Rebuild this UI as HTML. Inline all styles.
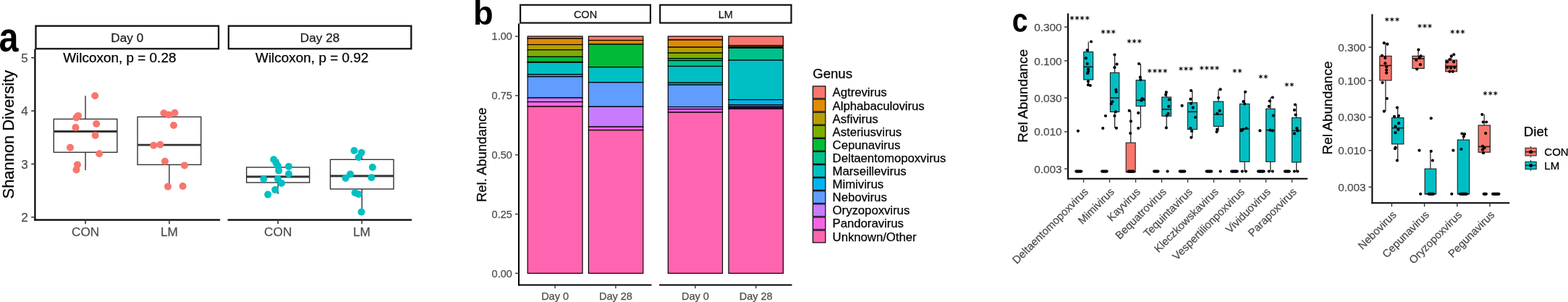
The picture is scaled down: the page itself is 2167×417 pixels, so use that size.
<!DOCTYPE html>
<html><head><meta charset="utf-8"><title>Figure</title>
<style>
html,body{margin:0;padding:0;background:#fff;}
body{width:2167px;height:417px;overflow:hidden;}
svg{display:block;}
text{font-family:'Liberation Sans', Arial, sans-serif;}
</style></head>
<body>
<svg width="2167" height="417" viewBox="0 0 2167 417">
<rect x="0" y="0" width="2167" height="417" fill="#fff"/>
<text x="0" y="0" font-size="57" font-weight="bold" fill="#000" transform="translate(-1.41,70.90) scale(0.851,1)">a</text>
<text x="0" y="0" font-size="45.3" font-weight="bold" fill="#000" transform="translate(653.91,34.10) scale(1.0,1)">b</text>
<text x="0" y="0" font-size="45.9" font-weight="bold" fill="#000" transform="translate(1398.77,43.90) scale(0.854,1)">c</text>
<rect x="49.5" y="35.8" width="252.6" height="31.5" fill="#fff" stroke="#111" stroke-width="2.3"/>
<text x="175.8" y="57.7" font-size="17.2" fill="#1A1A1A" stroke="#1A1A1A" stroke-width="0.25" text-anchor="middle">Day 0</text>
<rect x="315.9" y="35.8" width="252.4" height="31.5" fill="#fff" stroke="#111" stroke-width="2.3"/>
<text x="442.1" y="57.7" font-size="17.2" fill="#1A1A1A" stroke="#1A1A1A" stroke-width="0.25" text-anchor="middle">Day 28</text>
<text x="165.3" y="85.9" font-size="18.95" fill="#000" stroke="#000" stroke-width="0.25" text-anchor="middle">Wilcoxon, p = 0.28</text>
<text x="431.2" y="85.9" font-size="18.95" fill="#000" stroke="#000" stroke-width="0.25" text-anchor="middle">Wilcoxon, p = 0.92</text>
<line x1="48.4" y1="67.8" x2="48.4" y2="304.5" stroke="#000" stroke-width="2.2"/>
<line x1="43.2" y1="299.9" x2="48.4" y2="299.9" stroke="#333333" stroke-width="1.6"/>
<text x="38.6" y="305.9" font-size="17" fill="#4D4D4D" stroke="#4D4D4D" stroke-width="0.25" text-anchor="end">2</text>
<line x1="43.2" y1="226.5" x2="48.4" y2="226.5" stroke="#333333" stroke-width="1.6"/>
<text x="38.6" y="232.5" font-size="17" fill="#4D4D4D" stroke="#4D4D4D" stroke-width="0.25" text-anchor="end">3</text>
<line x1="43.2" y1="153.1" x2="48.4" y2="153.1" stroke="#333333" stroke-width="1.6"/>
<text x="38.6" y="159.1" font-size="17" fill="#4D4D4D" stroke="#4D4D4D" stroke-width="0.25" text-anchor="end">4</text>
<line x1="43.2" y1="79.7" x2="48.4" y2="79.7" stroke="#333333" stroke-width="1.6"/>
<text x="38.6" y="85.7" font-size="17" fill="#4D4D4D" stroke="#4D4D4D" stroke-width="0.25" text-anchor="end">5</text>
<line x1="47.3" y1="303.6" x2="304.2" y2="303.6" stroke="#000" stroke-width="2.2"/>
<line x1="118.1" y1="303.6" x2="118.1" y2="309.3" stroke="#333333" stroke-width="1.6"/>
<text x="118.1" y="326.4" font-size="17.2" fill="#4D4D4D" stroke="#4D4D4D" stroke-width="0.25" text-anchor="middle">CON</text>
<line x1="234.0" y1="303.6" x2="234.0" y2="309.3" stroke="#333333" stroke-width="1.6"/>
<text x="234.0" y="326.4" font-size="17.2" fill="#4D4D4D" stroke="#4D4D4D" stroke-width="0.25" text-anchor="middle">LM</text>
<line x1="314.6" y1="303.6" x2="569.0" y2="303.6" stroke="#000" stroke-width="2.2"/>
<line x1="384.2" y1="303.6" x2="384.2" y2="309.3" stroke="#333333" stroke-width="1.6"/>
<text x="384.2" y="326.4" font-size="17.2" fill="#4D4D4D" stroke="#4D4D4D" stroke-width="0.25" text-anchor="middle">CON</text>
<line x1="500.0" y1="303.6" x2="500.0" y2="309.3" stroke="#333333" stroke-width="1.6"/>
<text x="500.0" y="326.4" font-size="17.2" fill="#4D4D4D" stroke="#4D4D4D" stroke-width="0.25" text-anchor="middle">LM</text>
<text x="0.0" y="0.0" font-size="21.9" fill="#000" stroke="#000" stroke-width="0.25" text-anchor="middle" transform="translate(18.5,185.6) rotate(-90)">Shannon Diversity</text>
<line x1="118.1" y1="132.2" x2="118.1" y2="164.4" stroke="#333333" stroke-width="1.4"/>
<line x1="118.1" y1="210.3" x2="118.1" y2="235.0" stroke="#333333" stroke-width="1.4"/>
<rect x="74.3" y="164.4" width="87.6" height="45.9" fill="#fff" stroke="#333333" stroke-width="1.4"/>
<line x1="74.3" y1="181.5" x2="161.9" y2="181.5" stroke="#333333" stroke-width="2.8"/>
<line x1="233.9" y1="156.0" x2="233.9" y2="161.4" stroke="#333333" stroke-width="1.4"/>
<line x1="233.9" y1="227.4" x2="233.9" y2="257.6" stroke="#333333" stroke-width="1.4"/>
<rect x="190.1" y="161.4" width="87.7" height="66.0" fill="#fff" stroke="#333333" stroke-width="1.4"/>
<line x1="190.1" y1="200.2" x2="277.8" y2="200.2" stroke="#333333" stroke-width="2.8"/>
<line x1="384.2" y1="220.0" x2="384.2" y2="231.0" stroke="#333333" stroke-width="1.4"/>
<line x1="384.2" y1="252.1" x2="384.2" y2="268.0" stroke="#333333" stroke-width="1.4"/>
<rect x="340.7" y="231.0" width="87.0" height="21.1" fill="#fff" stroke="#333333" stroke-width="1.4"/>
<line x1="340.7" y1="244.0" x2="427.7" y2="244.0" stroke="#333333" stroke-width="2.8"/>
<line x1="500.2" y1="212.6" x2="500.2" y2="220.3" stroke="#333333" stroke-width="1.4"/>
<line x1="500.2" y1="261.0" x2="500.2" y2="293.0" stroke="#333333" stroke-width="1.4"/>
<rect x="456.5" y="220.3" width="87.5" height="40.7" fill="#fff" stroke="#333333" stroke-width="1.4"/>
<line x1="456.5" y1="243.0" x2="544.0" y2="243.0" stroke="#333333" stroke-width="2.8"/>
<circle cx="131.2" cy="132.2" r="5" fill="#F8766D"/>
<circle cx="108.0" cy="159.9" r="5" fill="#F8766D"/>
<circle cx="105.5" cy="162.4" r="5" fill="#F8766D"/>
<circle cx="104.5" cy="176.0" r="5" fill="#F8766D"/>
<circle cx="133.2" cy="171.0" r="5" fill="#F8766D"/>
<circle cx="131.7" cy="187.0" r="5" fill="#F8766D"/>
<circle cx="97.0" cy="203.7" r="5" fill="#F8766D"/>
<circle cx="137.2" cy="212.3" r="5" fill="#F8766D"/>
<circle cx="107.0" cy="227.4" r="5" fill="#F8766D"/>
<circle cx="105.5" cy="234.4" r="5" fill="#F8766D"/>
<circle cx="226.4" cy="156.3" r="5" fill="#F8766D"/>
<circle cx="233.0" cy="158.4" r="5" fill="#F8766D"/>
<circle cx="241.5" cy="155.8" r="5" fill="#F8766D"/>
<circle cx="240.0" cy="173.0" r="5" fill="#F8766D"/>
<circle cx="212.3" cy="200.7" r="5" fill="#F8766D"/>
<circle cx="221.4" cy="199.7" r="5" fill="#F8766D"/>
<circle cx="228.0" cy="222.8" r="5" fill="#F8766D"/>
<circle cx="255.0" cy="228.4" r="5" fill="#F8766D"/>
<circle cx="232.0" cy="257.6" r="5" fill="#F8766D"/>
<circle cx="252.6" cy="257.1" r="5" fill="#F8766D"/>
<circle cx="378.3" cy="220.3" r="5" fill="#00BFC4"/>
<circle cx="381.7" cy="225.3" r="5" fill="#00BFC4"/>
<circle cx="384.0" cy="229.0" r="5" fill="#00BFC4"/>
<circle cx="385.2" cy="235.6" r="5" fill="#00BFC4"/>
<circle cx="399.0" cy="229.9" r="5" fill="#00BFC4"/>
<circle cx="399.0" cy="240.2" r="5" fill="#00BFC4"/>
<circle cx="364.4" cy="247.1" r="5" fill="#00BFC4"/>
<circle cx="384.0" cy="247.1" r="5" fill="#00BFC4"/>
<circle cx="389.0" cy="252.9" r="5" fill="#00BFC4"/>
<circle cx="380.2" cy="262.1" r="5" fill="#00BFC4"/>
<circle cx="370.2" cy="268.6" r="5" fill="#00BFC4"/>
<circle cx="489.5" cy="208.0" r="5" fill="#00BFC4"/>
<circle cx="499.5" cy="210.7" r="5" fill="#00BFC4"/>
<circle cx="495.6" cy="217.2" r="5" fill="#00BFC4"/>
<circle cx="514.8" cy="231.0" r="5" fill="#00BFC4"/>
<circle cx="484.1" cy="240.6" r="5" fill="#00BFC4"/>
<circle cx="477.6" cy="246.0" r="5" fill="#00BFC4"/>
<circle cx="513.3" cy="245.2" r="5" fill="#00BFC4"/>
<circle cx="490.6" cy="266.3" r="5" fill="#00BFC4"/>
<circle cx="495.6" cy="268.2" r="5" fill="#00BFC4"/>
<circle cx="499.5" cy="292.8" r="5" fill="#00BFC4"/>
<rect x="719.1" y="6.8" width="179.8" height="24.8" fill="#fff" stroke="#111" stroke-width="2.2"/>
<text x="809.0" y="25.2" font-size="14.5" fill="#1A1A1A" stroke="#1A1A1A" stroke-width="0.25" text-anchor="middle">CON</text>
<rect x="912.2" y="6.8" width="181.3" height="24.8" fill="#fff" stroke="#111" stroke-width="2.2"/>
<text x="1002.8" y="25.2" font-size="14.5" fill="#1A1A1A" stroke="#1A1A1A" stroke-width="0.25" text-anchor="middle">LM</text>
<line x1="717.0" y1="32.6" x2="717.0" y2="394.4" stroke="#000" stroke-width="2.0"/>
<line x1="712.0" y1="377.4" x2="717.0" y2="377.4" stroke="#333333" stroke-width="1.4"/>
<text x="707.8" y="382.6" font-size="14.5" fill="#4D4D4D" stroke="#4D4D4D" stroke-width="0.25" text-anchor="end">0.00</text>
<line x1="712.0" y1="295.6" x2="717.0" y2="295.6" stroke="#333333" stroke-width="1.4"/>
<text x="707.8" y="300.8" font-size="14.5" fill="#4D4D4D" stroke="#4D4D4D" stroke-width="0.25" text-anchor="end">0.25</text>
<line x1="712.0" y1="213.8" x2="717.0" y2="213.8" stroke="#333333" stroke-width="1.4"/>
<text x="707.8" y="219.0" font-size="14.5" fill="#4D4D4D" stroke="#4D4D4D" stroke-width="0.25" text-anchor="end">0.50</text>
<line x1="712.0" y1="132.0" x2="717.0" y2="132.0" stroke="#333333" stroke-width="1.4"/>
<text x="707.8" y="137.2" font-size="14.5" fill="#4D4D4D" stroke="#4D4D4D" stroke-width="0.25" text-anchor="end">0.75</text>
<line x1="712.0" y1="50.2" x2="717.0" y2="50.2" stroke="#333333" stroke-width="1.4"/>
<text x="707.8" y="55.4" font-size="14.5" fill="#4D4D4D" stroke="#4D4D4D" stroke-width="0.25" text-anchor="end">1.00</text>
<line x1="716.0" y1="393.4" x2="900.5" y2="393.4" stroke="#000" stroke-width="2.0"/>
<line x1="767.1" y1="393.4" x2="767.1" y2="398.3" stroke="#333333" stroke-width="1.4"/>
<text x="767.1" y="413.6" font-size="14.5" fill="#4D4D4D" stroke="#4D4D4D" stroke-width="0.25" text-anchor="middle">Day 0</text>
<line x1="850.9" y1="393.4" x2="850.9" y2="398.3" stroke="#333333" stroke-width="1.4"/>
<text x="850.9" y="413.6" font-size="14.5" fill="#4D4D4D" stroke="#4D4D4D" stroke-width="0.25" text-anchor="middle">Day 28</text>
<line x1="911.0" y1="393.4" x2="1094.5" y2="393.4" stroke="#000" stroke-width="2.0"/>
<line x1="960.9" y1="393.4" x2="960.9" y2="398.3" stroke="#333333" stroke-width="1.4"/>
<text x="960.9" y="413.6" font-size="14.5" fill="#4D4D4D" stroke="#4D4D4D" stroke-width="0.25" text-anchor="middle">Day 0</text>
<line x1="1044.7" y1="393.4" x2="1044.7" y2="398.3" stroke="#333333" stroke-width="1.4"/>
<text x="1044.7" y="413.6" font-size="14.5" fill="#4D4D4D" stroke="#4D4D4D" stroke-width="0.25" text-anchor="middle">Day 28</text>
<text x="0.0" y="0.0" font-size="18.5" fill="#000" stroke="#000" stroke-width="0.25" text-anchor="middle" transform="translate(671.5,213.8) rotate(-90)">Rel. Abundance</text>
<rect x="729.2" y="50.1" width="75.8" height="3.1" fill="#F8766D" stroke="#000" stroke-width="1.2"/>
<rect x="729.2" y="53.2" width="75.8" height="8.4" fill="#DE8C00" stroke="#000" stroke-width="1.2"/>
<rect x="729.2" y="61.6" width="75.8" height="7.2" fill="#B79F00" stroke="#000" stroke-width="1.2"/>
<rect x="729.2" y="68.8" width="75.8" height="9.6" fill="#7CAE00" stroke="#000" stroke-width="1.2"/>
<rect x="729.2" y="78.4" width="75.8" height="7.1" fill="#00BA38" stroke="#000" stroke-width="1.2"/>
<rect x="729.2" y="85.5" width="75.8" height="0.7" fill="#00C08B" stroke="#000" stroke-width="1.2"/>
<rect x="729.2" y="86.2" width="75.8" height="16.6" fill="#00BFC4" stroke="#000" stroke-width="1.2"/>
<rect x="729.2" y="102.8" width="75.8" height="3.1" fill="#00B4F0" stroke="#000" stroke-width="1.2"/>
<rect x="729.2" y="105.9" width="75.8" height="29.2" fill="#619CFF" stroke="#000" stroke-width="1.2"/>
<rect x="729.2" y="135.1" width="75.8" height="5.5" fill="#C77CFF" stroke="#000" stroke-width="1.2"/>
<rect x="729.2" y="140.6" width="75.8" height="6.5" fill="#F564E3" stroke="#000" stroke-width="1.2"/>
<rect x="729.2" y="147.1" width="75.8" height="230.3" fill="#FF64B0" stroke="#000" stroke-width="1.2"/>
<rect x="813.4" y="50.1" width="75.4" height="5.5" fill="#F8766D" stroke="#000" stroke-width="1.2"/>
<rect x="813.4" y="55.6" width="75.4" height="5.5" fill="#DE8C00" stroke="#000" stroke-width="1.2"/>
<rect x="813.4" y="61.1" width="75.4" height="31.6" fill="#00BA38" stroke="#000" stroke-width="1.2"/>
<rect x="813.4" y="92.7" width="75.4" height="21.1" fill="#00BFC4" stroke="#000" stroke-width="1.2"/>
<rect x="813.4" y="113.8" width="75.4" height="33.5" fill="#619CFF" stroke="#000" stroke-width="1.2"/>
<rect x="813.4" y="147.3" width="75.4" height="27.8" fill="#C77CFF" stroke="#000" stroke-width="1.2"/>
<rect x="813.4" y="175.1" width="75.4" height="4.6" fill="#F564E3" stroke="#000" stroke-width="1.2"/>
<rect x="813.4" y="179.7" width="75.4" height="197.7" fill="#FF64B0" stroke="#000" stroke-width="1.2"/>
<rect x="923.3" y="50.1" width="75.2" height="5.0" fill="#F8766D" stroke="#000" stroke-width="1.2"/>
<rect x="923.3" y="55.1" width="75.2" height="10.1" fill="#DE8C00" stroke="#000" stroke-width="1.2"/>
<rect x="923.3" y="65.2" width="75.2" height="7.9" fill="#B79F00" stroke="#000" stroke-width="1.2"/>
<rect x="923.3" y="73.1" width="75.2" height="7.6" fill="#7CAE00" stroke="#000" stroke-width="1.2"/>
<rect x="923.3" y="80.7" width="75.2" height="2.9" fill="#00BA38" stroke="#000" stroke-width="1.2"/>
<rect x="923.3" y="83.6" width="75.2" height="7.9" fill="#00C08B" stroke="#000" stroke-width="1.2"/>
<rect x="923.3" y="91.5" width="75.2" height="22.8" fill="#00BFC4" stroke="#000" stroke-width="1.2"/>
<rect x="923.3" y="114.3" width="75.2" height="2.9" fill="#00B4F0" stroke="#000" stroke-width="1.2"/>
<rect x="923.3" y="117.2" width="75.2" height="30.4" fill="#619CFF" stroke="#000" stroke-width="1.2"/>
<rect x="923.3" y="147.6" width="75.2" height="3.1" fill="#C77CFF" stroke="#000" stroke-width="1.2"/>
<rect x="923.3" y="150.7" width="75.2" height="4.4" fill="#F564E3" stroke="#000" stroke-width="1.2"/>
<rect x="923.3" y="155.1" width="75.2" height="222.3" fill="#FF64B0" stroke="#000" stroke-width="1.2"/>
<rect x="1007.0" y="50.1" width="75.4" height="12.9" fill="#F8766D" stroke="#000" stroke-width="1.2"/>
<rect x="1007.0" y="63.0" width="75.4" height="2.0" fill="#DE8C00" stroke="#000" stroke-width="1.2"/>
<rect x="1007.0" y="65.0" width="75.4" height="1.3" fill="#00BA38" stroke="#000" stroke-width="1.2"/>
<rect x="1007.0" y="66.3" width="75.4" height="16.8" fill="#00C08B" stroke="#000" stroke-width="1.2"/>
<rect x="1007.0" y="83.1" width="75.4" height="54.5" fill="#00BFC4" stroke="#000" stroke-width="1.2"/>
<rect x="1007.0" y="137.6" width="75.4" height="7.2" fill="#00B4F0" stroke="#000" stroke-width="1.2"/>
<rect x="1007.0" y="144.8" width="75.4" height="2.4" fill="#619CFF" stroke="#000" stroke-width="1.2"/>
<rect x="1007.0" y="147.2" width="75.4" height="1.6" fill="#C77CFF" stroke="#000" stroke-width="1.2"/>
<rect x="1007.0" y="148.8" width="75.4" height="1.5" fill="#F564E3" stroke="#000" stroke-width="1.2"/>
<rect x="1007.0" y="150.3" width="75.4" height="227.1" fill="#FF64B0" stroke="#000" stroke-width="1.2"/>
<text x="1150.6" y="107.5" font-size="18.6" fill="#000" stroke="#000" stroke-width="0.25" text-anchor="middle">Genus</text>
<rect x="1123.4" y="119.0" width="17.4" height="16.9" fill="#F8766D" stroke="#000" stroke-width="1.2"/>
<text x="1150.6" y="133.4" font-size="16.7" fill="#000" stroke="#000" stroke-width="0.25">Agtrevirus</text>
<rect x="1123.4" y="137.1" width="17.4" height="16.9" fill="#DE8C00" stroke="#000" stroke-width="1.2"/>
<text x="1150.6" y="151.5" font-size="16.7" fill="#000" stroke="#000" stroke-width="0.25">Alphabaculovirus</text>
<rect x="1123.4" y="155.2" width="17.4" height="16.9" fill="#B79F00" stroke="#000" stroke-width="1.2"/>
<text x="1150.6" y="169.6" font-size="16.7" fill="#000" stroke="#000" stroke-width="0.25">Asfivirus</text>
<rect x="1123.4" y="173.3" width="17.4" height="16.9" fill="#7CAE00" stroke="#000" stroke-width="1.2"/>
<text x="1150.6" y="187.7" font-size="16.7" fill="#000" stroke="#000" stroke-width="0.25">Asteriusvirus</text>
<rect x="1123.4" y="191.4" width="17.4" height="16.9" fill="#00BA38" stroke="#000" stroke-width="1.2"/>
<text x="1150.6" y="205.8" font-size="16.7" fill="#000" stroke="#000" stroke-width="0.25">Cepunavirus</text>
<rect x="1123.4" y="209.5" width="17.4" height="16.9" fill="#00C08B" stroke="#000" stroke-width="1.2"/>
<text x="1150.6" y="223.9" font-size="16.7" fill="#000" stroke="#000" stroke-width="0.25">Deltaentomopoxvirus</text>
<rect x="1123.4" y="227.6" width="17.4" height="16.9" fill="#00BFC4" stroke="#000" stroke-width="1.2"/>
<text x="1150.6" y="242.0" font-size="16.7" fill="#000" stroke="#000" stroke-width="0.25">Marseillevirus</text>
<rect x="1123.4" y="245.7" width="17.4" height="16.9" fill="#00B4F0" stroke="#000" stroke-width="1.2"/>
<text x="1150.6" y="260.1" font-size="16.7" fill="#000" stroke="#000" stroke-width="0.25">Mimivirus</text>
<rect x="1123.4" y="263.8" width="17.4" height="16.9" fill="#619CFF" stroke="#000" stroke-width="1.2"/>
<text x="1150.6" y="278.2" font-size="16.7" fill="#000" stroke="#000" stroke-width="0.25">Nebovirus</text>
<rect x="1123.4" y="281.9" width="17.4" height="16.9" fill="#C77CFF" stroke="#000" stroke-width="1.2"/>
<text x="1150.6" y="296.3" font-size="16.7" fill="#000" stroke="#000" stroke-width="0.25">Oryzopoxvirus</text>
<rect x="1123.4" y="300.0" width="17.4" height="16.9" fill="#F564E3" stroke="#000" stroke-width="1.2"/>
<text x="1150.6" y="314.4" font-size="16.7" fill="#000" stroke="#000" stroke-width="0.25">Pandoravirus</text>
<rect x="1123.4" y="318.1" width="17.4" height="16.9" fill="#FF64B0" stroke="#000" stroke-width="1.2"/>
<text x="1150.6" y="332.5" font-size="16.7" fill="#000" stroke="#000" stroke-width="0.25">Unknown/Other</text>
<line x1="1476.0" y1="18.5" x2="1476.0" y2="248.0" stroke="#000" stroke-width="2.0"/>
<line x1="1471.0" y1="37.3" x2="1476.0" y2="37.3" stroke="#333333" stroke-width="1.4"/>
<text x="1467.5" y="42.8" font-size="15.3" fill="#4D4D4D" stroke="#4D4D4D" stroke-width="0.25" text-anchor="end">0.300</text>
<line x1="1471.0" y1="84.0" x2="1476.0" y2="84.0" stroke="#333333" stroke-width="1.4"/>
<text x="1467.5" y="89.5" font-size="15.3" fill="#4D4D4D" stroke="#4D4D4D" stroke-width="0.25" text-anchor="end">0.100</text>
<line x1="1471.0" y1="135.2" x2="1476.0" y2="135.2" stroke="#333333" stroke-width="1.4"/>
<text x="1467.5" y="140.7" font-size="15.3" fill="#4D4D4D" stroke="#4D4D4D" stroke-width="0.25" text-anchor="end">0.030</text>
<line x1="1471.0" y1="181.9" x2="1476.0" y2="181.9" stroke="#333333" stroke-width="1.4"/>
<text x="1467.5" y="187.4" font-size="15.3" fill="#4D4D4D" stroke="#4D4D4D" stroke-width="0.25" text-anchor="end">0.010</text>
<line x1="1471.0" y1="233.1" x2="1476.0" y2="233.1" stroke="#333333" stroke-width="1.4"/>
<text x="1467.5" y="238.6" font-size="15.3" fill="#4D4D4D" stroke="#4D4D4D" stroke-width="0.25" text-anchor="end">0.003</text>
<line x1="1475.0" y1="246.7" x2="1807.2" y2="246.7" stroke="#000" stroke-width="2.0"/>
<line x1="1497.5" y1="246.7" x2="1497.5" y2="251.9" stroke="#333333" stroke-width="1.4"/>
<text x="0.0" y="0.0" font-size="15.0" fill="#4D4D4D" stroke="#4D4D4D" stroke-width="0.25" text-anchor="end" transform="translate(1504.9,265.7) rotate(-45)">Deltaentomopoxvirus</text>
<line x1="1533.5" y1="246.7" x2="1533.5" y2="251.9" stroke="#333333" stroke-width="1.4"/>
<text x="0.0" y="0.0" font-size="15.0" fill="#4D4D4D" stroke="#4D4D4D" stroke-width="0.25" text-anchor="end" transform="translate(1540.9,265.7) rotate(-45)">Mimivirus</text>
<line x1="1569.5" y1="246.7" x2="1569.5" y2="251.9" stroke="#333333" stroke-width="1.4"/>
<text x="0.0" y="0.0" font-size="15.0" fill="#4D4D4D" stroke="#4D4D4D" stroke-width="0.25" text-anchor="end" transform="translate(1576.9,265.7) rotate(-45)">Kayvirus</text>
<line x1="1605.5" y1="246.7" x2="1605.5" y2="251.9" stroke="#333333" stroke-width="1.4"/>
<text x="0.0" y="0.0" font-size="15.0" fill="#4D4D4D" stroke="#4D4D4D" stroke-width="0.25" text-anchor="end" transform="translate(1612.9,265.7) rotate(-45)">Bequatrovirus</text>
<line x1="1641.5" y1="246.7" x2="1641.5" y2="251.9" stroke="#333333" stroke-width="1.4"/>
<text x="0.0" y="0.0" font-size="15.0" fill="#4D4D4D" stroke="#4D4D4D" stroke-width="0.25" text-anchor="end" transform="translate(1648.9,265.7) rotate(-45)">Tequintavirus</text>
<line x1="1677.5" y1="246.7" x2="1677.5" y2="251.9" stroke="#333333" stroke-width="1.4"/>
<text x="0.0" y="0.0" font-size="15.0" fill="#4D4D4D" stroke="#4D4D4D" stroke-width="0.25" text-anchor="end" transform="translate(1684.9,265.7) rotate(-45)">Kleczkowskavirus</text>
<line x1="1713.5" y1="246.7" x2="1713.5" y2="251.9" stroke="#333333" stroke-width="1.4"/>
<text x="0.0" y="0.0" font-size="15.0" fill="#4D4D4D" stroke="#4D4D4D" stroke-width="0.25" text-anchor="end" transform="translate(1720.9,265.7) rotate(-45)">Vespertilionpoxvirus</text>
<line x1="1749.5" y1="246.7" x2="1749.5" y2="251.9" stroke="#333333" stroke-width="1.4"/>
<text x="0.0" y="0.0" font-size="15.0" fill="#4D4D4D" stroke="#4D4D4D" stroke-width="0.25" text-anchor="end" transform="translate(1756.9,265.7) rotate(-45)">Vividuovirus</text>
<line x1="1785.5" y1="246.7" x2="1785.5" y2="251.9" stroke="#333333" stroke-width="1.4"/>
<text x="0.0" y="0.0" font-size="15.0" fill="#4D4D4D" stroke="#4D4D4D" stroke-width="0.25" text-anchor="end" transform="translate(1792.9,265.7) rotate(-45)">Parapoxvirus</text>
<text x="0.0" y="0.0" font-size="19.0" fill="#000" stroke="#000" stroke-width="0.25" text-anchor="middle" transform="translate(1420.0,132.3) rotate(-90)">Rel Abundance</text>
<line x1="1896.4" y1="19.4" x2="1896.4" y2="281.2" stroke="#000" stroke-width="2.0"/>
<line x1="1891.4" y1="65.2" x2="1896.4" y2="65.2" stroke="#333333" stroke-width="1.4"/>
<text x="1887.6" y="70.7" font-size="15.3" fill="#4D4D4D" stroke="#4D4D4D" stroke-width="0.25" text-anchor="end">0.300</text>
<line x1="1891.4" y1="111.3" x2="1896.4" y2="111.3" stroke="#333333" stroke-width="1.4"/>
<text x="1887.6" y="116.7" font-size="15.3" fill="#4D4D4D" stroke="#4D4D4D" stroke-width="0.25" text-anchor="end">0.100</text>
<line x1="1891.4" y1="161.8" x2="1896.4" y2="161.8" stroke="#333333" stroke-width="1.4"/>
<text x="1887.6" y="167.2" font-size="15.3" fill="#4D4D4D" stroke="#4D4D4D" stroke-width="0.25" text-anchor="end">0.030</text>
<line x1="1891.4" y1="207.8" x2="1896.4" y2="207.8" stroke="#333333" stroke-width="1.4"/>
<text x="1887.6" y="213.3" font-size="15.3" fill="#4D4D4D" stroke="#4D4D4D" stroke-width="0.25" text-anchor="end">0.010</text>
<line x1="1891.4" y1="258.3" x2="1896.4" y2="258.3" stroke="#333333" stroke-width="1.4"/>
<text x="1887.6" y="263.8" font-size="15.3" fill="#4D4D4D" stroke="#4D4D4D" stroke-width="0.25" text-anchor="end">0.003</text>
<line x1="1895.4" y1="280.2" x2="2086.3" y2="280.2" stroke="#000" stroke-width="2.0"/>
<line x1="1923.4" y1="280.2" x2="1923.4" y2="285.4" stroke="#333333" stroke-width="1.4"/>
<text x="0.0" y="0.0" font-size="15.0" fill="#4D4D4D" stroke="#4D4D4D" stroke-width="0.25" text-anchor="end" transform="translate(1930.8,297.5) rotate(-45)">Nebovirus</text>
<line x1="1968.6" y1="280.2" x2="1968.6" y2="285.4" stroke="#333333" stroke-width="1.4"/>
<text x="0.0" y="0.0" font-size="15.0" fill="#4D4D4D" stroke="#4D4D4D" stroke-width="0.25" text-anchor="end" transform="translate(1976.0,297.5) rotate(-45)">Cepunavirus</text>
<line x1="2013.8" y1="280.2" x2="2013.8" y2="285.4" stroke="#333333" stroke-width="1.4"/>
<text x="0.0" y="0.0" font-size="15.0" fill="#4D4D4D" stroke="#4D4D4D" stroke-width="0.25" text-anchor="end" transform="translate(2021.2,297.5) rotate(-45)">Oryzopoxvirus</text>
<line x1="2059.0" y1="280.2" x2="2059.0" y2="285.4" stroke="#333333" stroke-width="1.4"/>
<text x="0.0" y="0.0" font-size="15.0" fill="#4D4D4D" stroke="#4D4D4D" stroke-width="0.25" text-anchor="end" transform="translate(2066.4,297.5) rotate(-45)">Pegunavirus</text>
<text x="0.0" y="0.0" font-size="19.0" fill="#000" stroke="#000" stroke-width="0.25" text-anchor="middle" transform="translate(1840.8,149.0) rotate(-90)">Rel Abundance</text>
<line x1="1487.4" y1="236.6" x2="1494.2" y2="236.6" stroke="#000" stroke-width="4.2" stroke-linecap="round"/>
<circle cx="1489.9" cy="180.8" r="2.1" fill="#000"/>
<line x1="1504.2" y1="57.5" x2="1504.2" y2="71.7" stroke="#1a1a1a" stroke-width="1.2"/>
<line x1="1504.2" y1="110.0" x2="1504.2" y2="116.7" stroke="#1a1a1a" stroke-width="1.2"/>
<rect x="1497.7" y="71.7" width="12.9" height="38.3" fill="#00BFC4" stroke="#1a1a1a" stroke-width="1.1"/>
<line x1="1497.7" y1="92.3" x2="1510.6" y2="92.3" stroke="#1a1a1a" stroke-width="1.6"/>
<circle cx="1508.0" cy="57.5" r="2.1" fill="#000"/>
<circle cx="1502.7" cy="69.3" r="2.1" fill="#000"/>
<circle cx="1500.8" cy="80.3" r="2.1" fill="#000"/>
<circle cx="1502.7" cy="88.0" r="2.1" fill="#000"/>
<circle cx="1503.9" cy="95.6" r="2.1" fill="#000"/>
<circle cx="1503.9" cy="98.8" r="2.1" fill="#000"/>
<circle cx="1503.0" cy="101.2" r="2.1" fill="#000"/>
<circle cx="1503.9" cy="112.4" r="2.1" fill="#000"/>
<circle cx="1503.9" cy="117.2" r="2.1" fill="#000"/>
<circle cx="1506.8" cy="118.0" r="2.1" fill="#000"/>
<line x1="1523.1" y1="236.6" x2="1529.6" y2="236.6" stroke="#000" stroke-width="4.2" stroke-linecap="round"/>
<circle cx="1524.2" cy="177.1" r="2.1" fill="#000"/>
<circle cx="1527.9" cy="160.0" r="2.1" fill="#000"/>
<line x1="1540.6" y1="75.5" x2="1540.6" y2="100.4" stroke="#1a1a1a" stroke-width="1.2"/>
<line x1="1540.6" y1="154.5" x2="1540.6" y2="176.8" stroke="#1a1a1a" stroke-width="1.2"/>
<rect x="1534.4" y="100.4" width="12.4" height="54.1" fill="#00BFC4" stroke="#1a1a1a" stroke-width="1.1"/>
<line x1="1534.4" y1="135.2" x2="1546.8" y2="135.2" stroke="#1a1a1a" stroke-width="1.6"/>
<circle cx="1540.4" cy="75.5" r="2.1" fill="#000"/>
<circle cx="1543.5" cy="88.7" r="2.1" fill="#000"/>
<circle cx="1540.4" cy="93.2" r="2.1" fill="#000"/>
<circle cx="1542.3" cy="124.0" r="2.1" fill="#000"/>
<circle cx="1542.7" cy="126.8" r="2.1" fill="#000"/>
<circle cx="1535.7" cy="143.4" r="2.1" fill="#000"/>
<circle cx="1537.3" cy="140.3" r="2.1" fill="#000"/>
<circle cx="1540.4" cy="160.0" r="2.1" fill="#000"/>
<circle cx="1542.0" cy="154.3" r="2.1" fill="#000"/>
<circle cx="1542.9" cy="176.8" r="2.1" fill="#000"/>
<line x1="1562.7" y1="152.8" x2="1562.7" y2="197.1" stroke="#1a1a1a" stroke-width="1.2"/>
<rect x="1556.2" y="197.1" width="12.9" height="40.5" fill="#F8766D" stroke="#1a1a1a" stroke-width="1.1"/>
<line x1="1556.2" y1="237.6" x2="1569.1" y2="237.6" stroke="#1a1a1a" stroke-width="1.6"/>
<circle cx="1560.7" cy="152.8" r="2.1" fill="#000"/>
<circle cx="1562.9" cy="167.4" r="2.1" fill="#000"/>
<circle cx="1562.2" cy="184.0" r="2.1" fill="#000"/>
<line x1="1559.6" y1="236.6" x2="1566.4" y2="236.6" stroke="#000" stroke-width="4.2" stroke-linecap="round"/>
<line x1="1576.4" y1="88.0" x2="1576.4" y2="110.7" stroke="#1a1a1a" stroke-width="1.2"/>
<line x1="1576.4" y1="146.6" x2="1576.4" y2="177.1" stroke="#1a1a1a" stroke-width="1.2"/>
<rect x="1570.1" y="110.7" width="12.7" height="35.9" fill="#00BFC4" stroke="#1a1a1a" stroke-width="1.1"/>
<line x1="1570.1" y1="138.4" x2="1582.8" y2="138.4" stroke="#1a1a1a" stroke-width="1.6"/>
<circle cx="1574.0" cy="88.0" r="2.1" fill="#000"/>
<circle cx="1575.8" cy="106.7" r="2.1" fill="#000"/>
<circle cx="1576.3" cy="110.0" r="2.1" fill="#000"/>
<circle cx="1580.0" cy="137.0" r="2.1" fill="#000"/>
<circle cx="1573.2" cy="155.9" r="2.1" fill="#000"/>
<circle cx="1577.2" cy="138.7" r="2.1" fill="#000"/>
<circle cx="1578.5" cy="136.2" r="2.1" fill="#000"/>
<circle cx="1573.2" cy="177.1" r="2.1" fill="#000"/>
<line x1="1595.1" y1="236.6" x2="1600.4" y2="236.6" stroke="#000" stroke-width="4.2" stroke-linecap="round"/>
<line x1="1612.2" y1="126.8" x2="1612.2" y2="134.1" stroke="#1a1a1a" stroke-width="1.2"/>
<line x1="1612.2" y1="160.3" x2="1612.2" y2="176.4" stroke="#1a1a1a" stroke-width="1.2"/>
<rect x="1605.8" y="134.1" width="12.7" height="26.2" fill="#00BFC4" stroke="#1a1a1a" stroke-width="1.1"/>
<line x1="1605.8" y1="150.9" x2="1618.5" y2="150.9" stroke="#1a1a1a" stroke-width="1.6"/>
<circle cx="1611.8" cy="127.4" r="2.1" fill="#000"/>
<circle cx="1611.1" cy="130.8" r="2.1" fill="#000"/>
<circle cx="1615.8" cy="137.5" r="2.1" fill="#000"/>
<circle cx="1615.2" cy="146.9" r="2.1" fill="#000"/>
<circle cx="1614.5" cy="156.9" r="2.1" fill="#000"/>
<circle cx="1612.5" cy="159.6" r="2.1" fill="#000"/>
<circle cx="1611.8" cy="176.4" r="2.1" fill="#000"/>
<circle cx="1613.5" cy="236.6" r="2.1" fill="#000"/>
<line x1="1630.7" y1="236.6" x2="1637.2" y2="236.6" stroke="#000" stroke-width="4.2" stroke-linecap="round"/>
<circle cx="1633.6" cy="145.9" r="2.1" fill="#000"/>
<line x1="1647.8" y1="125.1" x2="1647.8" y2="141.8" stroke="#1a1a1a" stroke-width="1.2"/>
<line x1="1647.8" y1="178.7" x2="1647.8" y2="189.8" stroke="#1a1a1a" stroke-width="1.2"/>
<rect x="1641.3" y="141.8" width="13.1" height="36.9" fill="#00BFC4" stroke="#1a1a1a" stroke-width="1.1"/>
<line x1="1641.3" y1="154.3" x2="1654.4" y2="154.3" stroke="#1a1a1a" stroke-width="1.6"/>
<circle cx="1646.0" cy="125.1" r="2.1" fill="#000"/>
<circle cx="1645.3" cy="136.8" r="2.1" fill="#000"/>
<circle cx="1646.0" cy="142.9" r="2.1" fill="#000"/>
<circle cx="1648.7" cy="148.6" r="2.1" fill="#000"/>
<circle cx="1652.0" cy="162.0" r="2.1" fill="#000"/>
<circle cx="1645.3" cy="177.0" r="2.1" fill="#000"/>
<circle cx="1647.0" cy="181.0" r="2.1" fill="#000"/>
<circle cx="1646.3" cy="189.8" r="2.1" fill="#000"/>
<line x1="1667.6" y1="236.6" x2="1674.1" y2="236.6" stroke="#000" stroke-width="4.2" stroke-linecap="round"/>
<line x1="1683.9" y1="123.4" x2="1683.9" y2="140.2" stroke="#1a1a1a" stroke-width="1.2"/>
<line x1="1683.9" y1="174.4" x2="1683.9" y2="181.5" stroke="#1a1a1a" stroke-width="1.2"/>
<rect x="1677.2" y="140.2" width="13.4" height="34.2" fill="#00BFC4" stroke="#1a1a1a" stroke-width="1.1"/>
<line x1="1677.2" y1="157.9" x2="1690.6" y2="157.9" stroke="#1a1a1a" stroke-width="1.6"/>
<circle cx="1686.6" cy="123.4" r="2.1" fill="#000"/>
<circle cx="1683.9" cy="135.1" r="2.1" fill="#000"/>
<circle cx="1682.2" cy="156.9" r="2.1" fill="#000"/>
<circle cx="1685.6" cy="152.9" r="2.1" fill="#000"/>
<circle cx="1682.2" cy="178.7" r="2.1" fill="#000"/>
<circle cx="1681.5" cy="182.1" r="2.1" fill="#000"/>
<circle cx="1686.6" cy="236.6" r="2.1" fill="#000"/>
<line x1="1702.1" y1="236.6" x2="1709.7" y2="236.6" stroke="#000" stroke-width="4.2" stroke-linecap="round"/>
<line x1="1720.1" y1="126.8" x2="1720.1" y2="143.5" stroke="#1a1a1a" stroke-width="1.2"/>
<line x1="1720.1" y1="223.3" x2="1720.1" y2="236.6" stroke="#1a1a1a" stroke-width="1.2"/>
<rect x="1713.4" y="143.5" width="13.4" height="79.8" fill="#00BFC4" stroke="#1a1a1a" stroke-width="1.1"/>
<line x1="1713.4" y1="178.0" x2="1726.8" y2="178.0" stroke="#1a1a1a" stroke-width="1.6"/>
<circle cx="1721.1" cy="126.8" r="2.1" fill="#000"/>
<circle cx="1718.5" cy="140.2" r="2.1" fill="#000"/>
<circle cx="1720.1" cy="143.5" r="2.1" fill="#000"/>
<circle cx="1715.8" cy="180.4" r="2.1" fill="#000"/>
<circle cx="1717.8" cy="178.7" r="2.1" fill="#000"/>
<circle cx="1722.5" cy="177.0" r="2.1" fill="#000"/>
<circle cx="1716.8" cy="236.6" r="2.1" fill="#000"/>
<circle cx="1721.8" cy="236.6" r="2.1" fill="#000"/>
<line x1="1739.0" y1="236.6" x2="1746.5" y2="236.6" stroke="#000" stroke-width="4.2" stroke-linecap="round"/>
<circle cx="1741.3" cy="180.4" r="2.1" fill="#000"/>
<line x1="1755.8" y1="134.5" x2="1755.8" y2="150.2" stroke="#1a1a1a" stroke-width="1.2"/>
<line x1="1755.8" y1="223.3" x2="1755.8" y2="236.6" stroke="#1a1a1a" stroke-width="1.2"/>
<rect x="1749.6" y="150.2" width="12.4" height="73.1" fill="#00BFC4" stroke="#1a1a1a" stroke-width="1.1"/>
<line x1="1749.6" y1="179.7" x2="1762.0" y2="179.7" stroke="#1a1a1a" stroke-width="1.6"/>
<circle cx="1758.7" cy="134.5" r="2.1" fill="#000"/>
<circle cx="1754.7" cy="139.5" r="2.1" fill="#000"/>
<circle cx="1753.7" cy="146.9" r="2.1" fill="#000"/>
<circle cx="1759.7" cy="159.6" r="2.1" fill="#000"/>
<circle cx="1755.3" cy="179.7" r="2.1" fill="#000"/>
<circle cx="1758.7" cy="180.4" r="2.1" fill="#000"/>
<circle cx="1753.7" cy="236.6" r="2.1" fill="#000"/>
<circle cx="1758.7" cy="236.6" r="2.1" fill="#000"/>
<line x1="1775.9" y1="236.6" x2="1781.7" y2="236.6" stroke="#000" stroke-width="4.2" stroke-linecap="round"/>
<line x1="1791.7" y1="144.5" x2="1791.7" y2="162.6" stroke="#1a1a1a" stroke-width="1.2"/>
<line x1="1791.7" y1="224.0" x2="1791.7" y2="236.6" stroke="#1a1a1a" stroke-width="1.2"/>
<rect x="1785.5" y="162.6" width="12.4" height="61.4" fill="#00BFC4" stroke="#1a1a1a" stroke-width="1.1"/>
<line x1="1785.5" y1="180.4" x2="1797.9" y2="180.4" stroke="#1a1a1a" stroke-width="1.6"/>
<circle cx="1789.9" cy="144.5" r="2.1" fill="#000"/>
<circle cx="1788.9" cy="151.9" r="2.1" fill="#000"/>
<circle cx="1790.5" cy="158.6" r="2.1" fill="#000"/>
<circle cx="1792.2" cy="177.0" r="2.1" fill="#000"/>
<circle cx="1793.2" cy="180.4" r="2.1" fill="#000"/>
<circle cx="1788.9" cy="184.4" r="2.1" fill="#000"/>
<circle cx="1788.9" cy="236.6" r="2.1" fill="#000"/>
<circle cx="1793.2" cy="236.6" r="2.1" fill="#000"/>
<text x="1478.4" y="30.9" font-size="11.5" font-weight="bold" letter-spacing="1.1" style="font-family:'DejaVu Sans',sans-serif" fill="#000">****</text>
<text x="1521.6" y="49.6" font-size="11.5" font-weight="bold" letter-spacing="1.1" style="font-family:'DejaVu Sans',sans-serif" fill="#000">***</text>
<text x="1557.5" y="62.5" font-size="11.5" font-weight="bold" letter-spacing="1.1" style="font-family:'DejaVu Sans',sans-serif" fill="#000">***</text>
<text x="1585.8" y="103.8" font-size="11.5" font-weight="bold" letter-spacing="1.1" style="font-family:'DejaVu Sans',sans-serif" fill="#000">****</text>
<text x="1628.9" y="101.4" font-size="11.5" font-weight="bold" letter-spacing="1.1" style="font-family:'DejaVu Sans',sans-serif" fill="#000">***</text>
<text x="1657.7" y="99.9" font-size="11.5" font-weight="bold" letter-spacing="1.1" style="font-family:'DejaVu Sans',sans-serif" fill="#000">****</text>
<text x="1703.3" y="103.8" font-size="11.5" font-weight="bold" letter-spacing="1.1" style="font-family:'DejaVu Sans',sans-serif" fill="#000">**</text>
<text x="1739.2" y="111.5" font-size="11.5" font-weight="bold" letter-spacing="1.1" style="font-family:'DejaVu Sans',sans-serif" fill="#000">**</text>
<text x="1775.2" y="122.9" font-size="11.5" font-weight="bold" letter-spacing="1.1" style="font-family:'DejaVu Sans',sans-serif" fill="#000">**</text>
<text x="1913.7" y="33.1" font-size="11.5" font-weight="bold" letter-spacing="1.1" style="font-family:'DejaVu Sans',sans-serif" fill="#000">***</text>
<text x="1958.9" y="42.4" font-size="11.5" font-weight="bold" letter-spacing="1.1" style="font-family:'DejaVu Sans',sans-serif" fill="#000">***</text>
<text x="2004.3" y="50.0" font-size="11.5" font-weight="bold" letter-spacing="1.1" style="font-family:'DejaVu Sans',sans-serif" fill="#000">***</text>
<text x="2049.6" y="134.9" font-size="11.5" font-weight="bold" letter-spacing="1.1" style="font-family:'DejaVu Sans',sans-serif" fill="#000">***</text>
<line x1="1914.9" y1="59.3" x2="1914.9" y2="77.4" stroke="#1a1a1a" stroke-width="1.2"/>
<line x1="1914.9" y1="111.0" x2="1914.9" y2="153.7" stroke="#1a1a1a" stroke-width="1.2"/>
<rect x="1906.8" y="77.4" width="16.2" height="33.6" fill="#F8766D" stroke="#1a1a1a" stroke-width="1.1"/>
<line x1="1906.8" y1="90.5" x2="1923.0" y2="90.5" stroke="#1a1a1a" stroke-width="1.6"/>
<circle cx="1912.8" cy="59.3" r="2.1" fill="#000"/>
<circle cx="1917.4" cy="60.9" r="2.1" fill="#000"/>
<circle cx="1910.0" cy="76.8" r="2.1" fill="#000"/>
<circle cx="1914.3" cy="79.9" r="2.1" fill="#000"/>
<circle cx="1914.3" cy="87.4" r="2.1" fill="#000"/>
<circle cx="1916.2" cy="92.3" r="2.1" fill="#000"/>
<circle cx="1916.2" cy="96.7" r="2.1" fill="#000"/>
<circle cx="1916.2" cy="100.7" r="2.1" fill="#000"/>
<circle cx="1910.6" cy="114.1" r="2.1" fill="#000"/>
<circle cx="1916.8" cy="136.0" r="2.1" fill="#000"/>
<circle cx="1912.8" cy="153.7" r="2.1" fill="#000"/>
<line x1="1931.7" y1="148.6" x2="1931.7" y2="162.7" stroke="#1a1a1a" stroke-width="1.2"/>
<line x1="1931.7" y1="198.9" x2="1931.7" y2="221.6" stroke="#1a1a1a" stroke-width="1.2"/>
<rect x="1923.5" y="162.7" width="16.4" height="36.2" fill="#00BFC4" stroke="#1a1a1a" stroke-width="1.1"/>
<line x1="1923.5" y1="176.7" x2="1939.9" y2="176.7" stroke="#1a1a1a" stroke-width="1.6"/>
<circle cx="1930.9" cy="148.6" r="2.1" fill="#000"/>
<circle cx="1927.0" cy="160.9" r="2.1" fill="#000"/>
<circle cx="1933.0" cy="159.9" r="2.1" fill="#000"/>
<circle cx="1933.0" cy="170.2" r="2.1" fill="#000"/>
<circle cx="1928.5" cy="174.5" r="2.1" fill="#000"/>
<circle cx="1932.4" cy="178.9" r="2.1" fill="#000"/>
<circle cx="1928.5" cy="183.2" r="2.1" fill="#000"/>
<circle cx="1928.0" cy="205.2" r="2.1" fill="#000"/>
<circle cx="1928.7" cy="203.7" r="2.1" fill="#000"/>
<circle cx="1930.9" cy="221.6" r="2.1" fill="#000"/>
<line x1="1960.1" y1="68.7" x2="1960.1" y2="77.4" stroke="#1a1a1a" stroke-width="1.2"/>
<rect x="1952.0" y="77.4" width="16.2" height="17.1" fill="#F8766D" stroke="#1a1a1a" stroke-width="1.1"/>
<line x1="1952.0" y1="81.1" x2="1968.2" y2="81.1" stroke="#1a1a1a" stroke-width="1.6"/>
<circle cx="1960.4" cy="68.7" r="2.1" fill="#000"/>
<circle cx="1963.5" cy="77.4" r="2.1" fill="#000"/>
<circle cx="1961.4" cy="79.9" r="2.1" fill="#000"/>
<circle cx="1957.3" cy="83.0" r="2.1" fill="#000"/>
<circle cx="1962.9" cy="89.2" r="2.1" fill="#000"/>
<circle cx="1958.2" cy="95.5" r="2.1" fill="#000"/>
<circle cx="1961.5" cy="207.7" r="2.1" fill="#000"/>
<circle cx="1963.2" cy="267.8" r="2.1" fill="#000"/>
<line x1="1976.9" y1="208.8" x2="1976.9" y2="233.1" stroke="#1a1a1a" stroke-width="1.2"/>
<rect x="1969.1" y="233.1" width="15.6" height="34.7" fill="#00BFC4" stroke="#1a1a1a" stroke-width="1.1"/>
<line x1="1969.1" y1="267.8" x2="1984.7" y2="267.8" stroke="#1a1a1a" stroke-width="1.6"/>
<circle cx="1977.8" cy="163.3" r="2.1" fill="#000"/>
<circle cx="1977.8" cy="208.8" r="2.1" fill="#000"/>
<circle cx="1979.9" cy="221.6" r="2.1" fill="#000"/>
<line x1="1974.7" y1="267.8" x2="1980.9" y2="267.8" stroke="#000" stroke-width="4.2" stroke-linecap="round"/>
<line x1="2005.7" y1="75.3" x2="2005.7" y2="83.0" stroke="#1a1a1a" stroke-width="1.2"/>
<rect x="1997.8" y="83.0" width="15.7" height="15.8" fill="#F8766D" stroke="#1a1a1a" stroke-width="1.1"/>
<line x1="1997.8" y1="91.4" x2="2013.5" y2="91.4" stroke="#1a1a1a" stroke-width="1.6"/>
<circle cx="2009.2" cy="75.3" r="2.1" fill="#000"/>
<circle cx="2005.8" cy="77.7" r="2.1" fill="#000"/>
<circle cx="2003.5" cy="82.0" r="2.1" fill="#000"/>
<circle cx="2000.1" cy="85.4" r="2.1" fill="#000"/>
<circle cx="2009.2" cy="85.4" r="2.1" fill="#000"/>
<circle cx="2000.1" cy="93.1" r="2.1" fill="#000"/>
<circle cx="2005.1" cy="93.8" r="2.1" fill="#000"/>
<circle cx="2010.2" cy="93.1" r="2.1" fill="#000"/>
<circle cx="2003.5" cy="98.8" r="2.1" fill="#000"/>
<circle cx="2007.8" cy="98.8" r="2.1" fill="#000"/>
<circle cx="2008.4" cy="207.7" r="2.1" fill="#000"/>
<circle cx="2006.3" cy="267.8" r="2.1" fill="#000"/>
<line x1="2022.4" y1="184.5" x2="2022.4" y2="193.1" stroke="#1a1a1a" stroke-width="1.2"/>
<rect x="2014.3" y="193.1" width="16.3" height="74.7" fill="#00BFC4" stroke="#1a1a1a" stroke-width="1.1"/>
<line x1="2014.3" y1="267.8" x2="2030.6" y2="267.8" stroke="#1a1a1a" stroke-width="1.6"/>
<circle cx="2020.5" cy="184.5" r="2.1" fill="#000"/>
<circle cx="2024.0" cy="185.2" r="2.1" fill="#000"/>
<circle cx="2022.9" cy="188.6" r="2.1" fill="#000"/>
<circle cx="2019.5" cy="206.0" r="2.1" fill="#000"/>
<line x1="2018.1" y1="267.8" x2="2026.9" y2="267.8" stroke="#000" stroke-width="4.2" stroke-linecap="round"/>
<line x1="2051.2" y1="158.0" x2="2051.2" y2="173.0" stroke="#1a1a1a" stroke-width="1.2"/>
<rect x="2043.1" y="173.0" width="16.3" height="37.2" fill="#F8766D" stroke="#1a1a1a" stroke-width="1.1"/>
<line x1="2043.1" y1="202.5" x2="2059.4" y2="202.5" stroke="#1a1a1a" stroke-width="1.6"/>
<circle cx="2048.3" cy="158.1" r="2.1" fill="#000"/>
<circle cx="2049.7" cy="168.5" r="2.1" fill="#000"/>
<circle cx="2054.2" cy="168.5" r="2.1" fill="#000"/>
<circle cx="2053.2" cy="184.1" r="2.1" fill="#000"/>
<circle cx="2049.0" cy="201.8" r="2.1" fill="#000"/>
<circle cx="2051.4" cy="204.3" r="2.1" fill="#000"/>
<circle cx="2049.0" cy="206.7" r="2.1" fill="#000"/>
<circle cx="2050.0" cy="211.2" r="2.1" fill="#000"/>
<line x1="2050.7" y1="267.8" x2="2053.9" y2="267.8" stroke="#000" stroke-width="4.2" stroke-linecap="round"/>
<line x1="2063.1" y1="267.8" x2="2071.4" y2="267.8" stroke="#000" stroke-width="4.2" stroke-linecap="round"/>
<text x="2105.8" y="188.0" font-size="18.7" fill="#000" stroke="#000" stroke-width="0.25">Diet</text>
<line x1="2115.6" y1="201.9" x2="2115.6" y2="217.4" stroke="#1a1a1a" stroke-width="1.0"/>
<rect x="2108.0" y="204.3" width="15.2" height="10.7" fill="#F8766D" stroke="#1a1a1a" stroke-width="1.0"/>
<line x1="2108.0" y1="209.7" x2="2123.2" y2="209.7" stroke="#1a1a1a" stroke-width="1.4"/>
<circle cx="2115.6" cy="209.7" r="2.5" fill="#000"/>
<text x="2134.3" y="214.8" font-size="15.0" fill="#000" stroke="#000" stroke-width="0.25">CON</text>
<line x1="2115.6" y1="220.9" x2="2115.6" y2="236.0" stroke="#1a1a1a" stroke-width="1.0"/>
<rect x="2108.0" y="223.3" width="15.2" height="10.3" fill="#00BFC4" stroke="#1a1a1a" stroke-width="1.0"/>
<line x1="2108.0" y1="228.4" x2="2123.2" y2="228.4" stroke="#1a1a1a" stroke-width="1.4"/>
<circle cx="2115.6" cy="228.4" r="2.5" fill="#000"/>
<text x="2134.3" y="233.6" font-size="15.0" fill="#000" stroke="#000" stroke-width="0.25">LM</text>
</svg>
</body></html>
